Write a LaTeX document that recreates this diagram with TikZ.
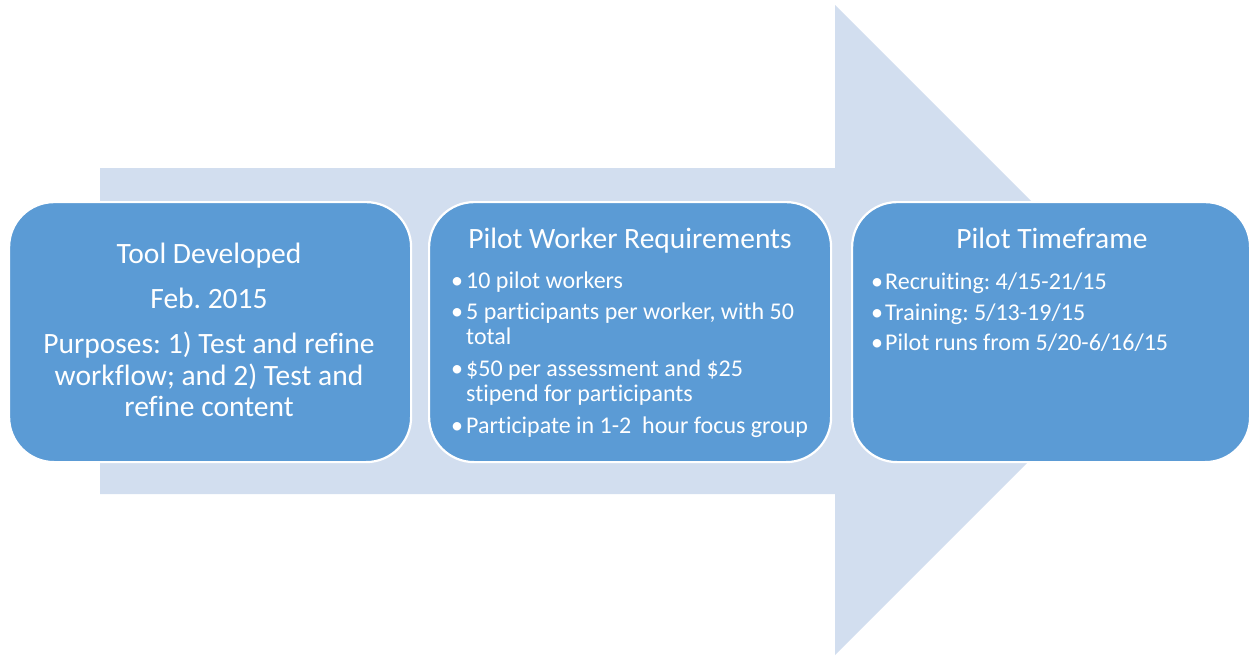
\documentclass[tikz,border=0pt]{standalone}
\usepackage{fontspec}
\setmainfont{Carlito}[Ligatures=NoCommon]
\frenchspacing
\definecolor{arrowfill}{RGB}{210,222,239}
\definecolor{boxfill}{RGB}{91,155,213}
\begin{document}
\begin{tikzpicture}[x=1pt,y=-1pt,
  box/.style={draw=white, line width=2.2pt, fill=boxfill, rounded corners=45pt, anchor=north west, minimum height=260pt, inner sep=0pt},
  title/.style={text=white, font=\fontsize{29.5}{34}\selectfont, anchor=base, inner sep=0pt},
  item/.style={text=white, font=\fontsize{24}{28}\selectfont, anchor=base west, inner sep=0pt}]
\useasboundingbox (0,0) rectangle (1251,656);
\fill[arrowfill] (100,168) -- (835,168) -- (835,5) -- (1160,330) -- (835,655) -- (835,494) -- (100,494) -- cycle;
\node[box, minimum width=402pt] (b1) at (8,201) {};
\node[box, minimum width=402pt] (b2) at (428,201) {};
\node[box, minimum width=398pt] (b3) at (851,201) {};
% box 1
\node[title] (t1a) at (209,263) {Tool Developed};
\node[title] (t1b) at (209,308) {Feb. 2015};
\node[title] (t1c) at (209,353) {Purposes: 1) Test and refine};
\node[title] (t1d) at (209,385) {workflow; and 2) Test and};
\node[title] (t1e) at (209,416) {refine content};
% box 2
\node[title] (t2) at (630,248) {Pilot Worker Requirements};
\node[item] (u2a) at (451,288) {\textbullet};
\node[item] (i2a) at (466,288) {10 pilot workers};
\node[item] (u2b) at (451,319) {\textbullet};
\node[item] (i2b) at (466,319) {5 participants per worker, with 50};
\node[item] (i2c) at (466,344) {total};
\node[item] (u2d) at (451,376) {\textbullet};
\node[item] (i2d) at (466,376) {\$50 per assessment and \$25};
\node[item] (i2e) at (466,401) {stipend for participants};
\node[item] (u2f) at (451,433) {\textbullet};
\node[item] (i2f) at (466,433) {Participate in 1-2\ \ hour focus group};
% box 3
\node[title] (t3) at (1052,248) {Pilot Timeframe};
\node[item] (u3a) at (871,289) {\textbullet};
\node[item] (i3a) at (885,289) {Recruiting: 4/15-21/15};
\node[item] (u3b) at (871,320) {\textbullet};
\node[item] (i3b) at (885,320) {Training: 5/13-19/15};
\node[item] (u3c) at (871,350) {\textbullet};
\node[item] (i3c) at (885,350) {Pilot runs from 5/20-6/16/15};
\end{tikzpicture}
\end{document}
